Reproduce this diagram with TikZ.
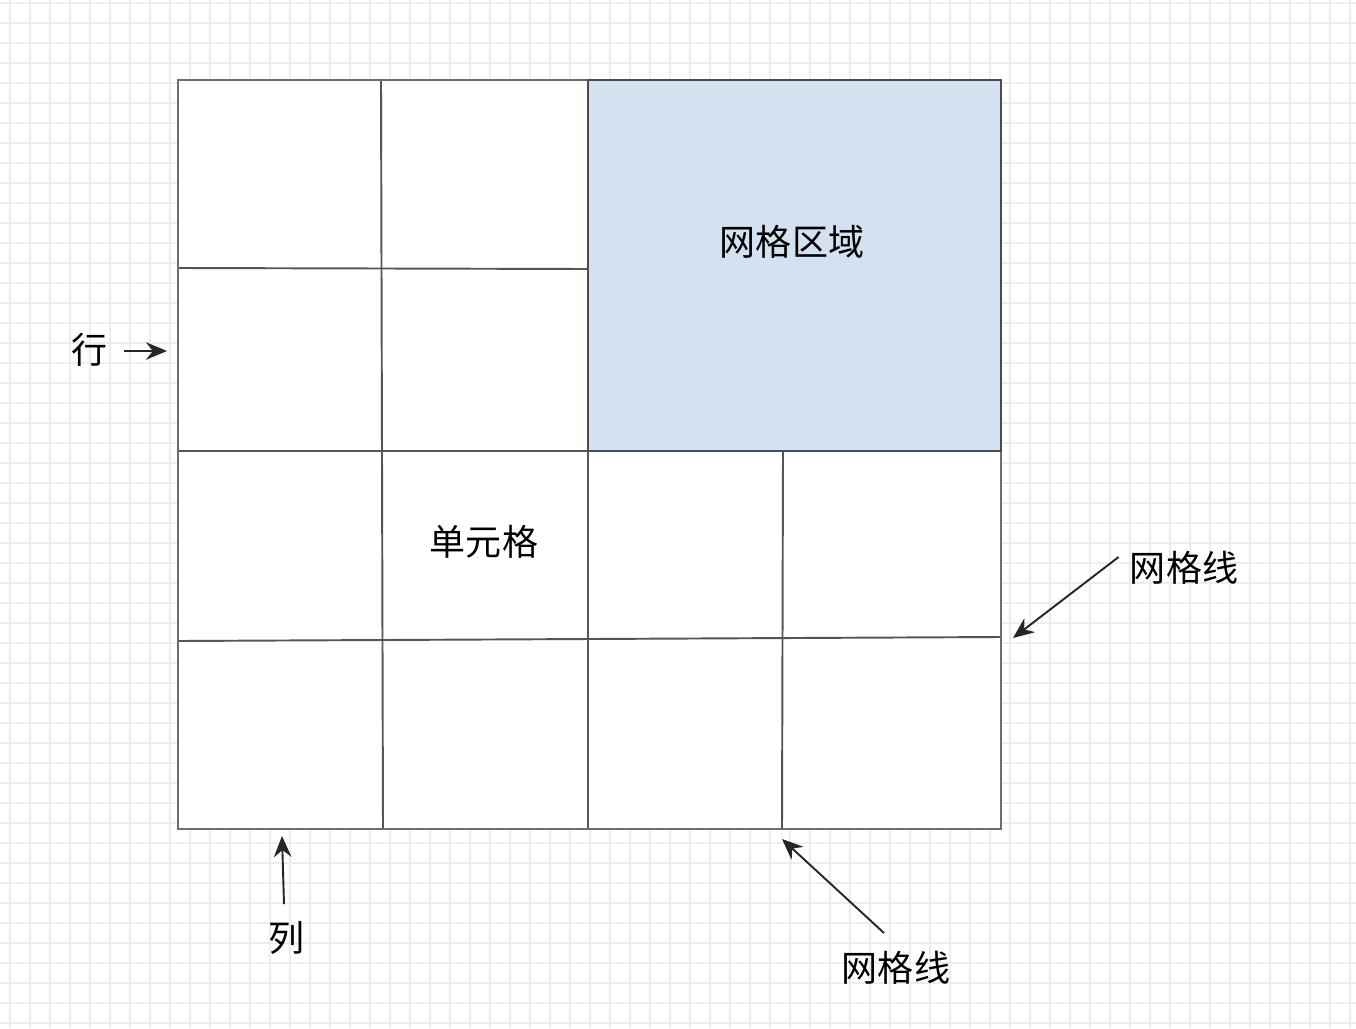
\documentclass[tikz,border=0pt]{standalone}
\usepackage{fontspec}
\newfontfamily\cjk{Noto Sans CJK SC}
\usetikzlibrary{arrows.meta}
\definecolor{bgline}{HTML}{EDEDED}
\definecolor{cellline}{HTML}{555555}
\definecolor{areafill}{HTML}{D3E1F0}

\begin{document}
\begin{tikzpicture}[x=0.02cm, y=-0.02cm]

    % CJK text
    \cjk

    % Styles
    \tikzset{bgL/.style={draw=bgline, line width=1pt}}
    \tikzset{cL/.style={draw=cellline, line width=1.1pt}}
    \tikzset{oL/.style={draw=cellline!85, line width=1.5pt}}
    \tikzset{aR/.style={fill=areafill, draw=cellline!90!black, line width=1.5pt}}
    \tikzset{lbl/.style={inner sep = 0pt, font = \fontsize{20.5}{24}\selectfont}}
    \tikzset{pA/.style={draw=black!85, line width=1.1pt, -{Stealth[length=12pt, width=10pt, inset=4pt]}}}

    % Page
    \useasboundingbox (0,0) rectangle (1356,1028);
    \fill[white] (0,0) rectangle (1356,1028);

    % Background grid
    \foreach \gx in {10,30,...,1350}
    	\path[bgL] (\gx,0) -- (\gx,1028);
    \foreach \gy in {3,23,...,1028}
    	\path[bgL] (0,\gy) -- (1356,\gy);

    % Cells
    \fill[white] (178,80) rectangle (1001,829);
    \path[aR] (588,80) rectangle (1001,451);
    \path[cL] (381,80) -- (383,829);
    \path[cL] (588,80) -- (588,829);
    \path[cL] (783,451) -- (782,829);
    \path[cL] (178,268) -- (588,269);
    \path[cL] (178,451) -- (1001,451);
    \path[cL] (178,641) -- (1001,637);
    \path[oL] (178,80) rectangle (1001,829);
    \path[aR, fill=none] (588,80) rectangle (1001,451);

    % Labels
    \node (area) [lbl] at (792,242) {网格区域};
    \node (cell) [lbl] at (484,542) {单元格};
    \node (row) [lbl] at (90,350) {行};
    \node (col) [lbl] at (287,938) {列};
    \node (gl1) [lbl] at (1184,568) {网格线};
    \node (gl2) [lbl] at (896,968) {网格线};

    % Arrow targets
    \coordinate (rowT) at (167,351);
    \coordinate (colT) at (282,836);
    \coordinate (gl1T) at (1013,638);
    \coordinate (gl2T) at (782,839);

    % Arrows
    \path[pA] (row.east) ++(16,1) -- (rowT);
    \path[pA] (col.north) ++(-3,-17) -- (colT);
    \path[pA] (gl1.west) ++(-11,-11) -- (gl1T);
    \path[pA] (gl2.north) ++(-12,-18) -- (gl2T);

\end{tikzpicture}
\end{document}
